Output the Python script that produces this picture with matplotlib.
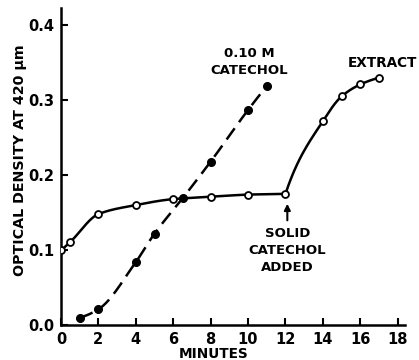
import numpy as np
import matplotlib
matplotlib.use("Agg")
import matplotlib.pyplot as plt

# Extract (open circles)
ext_x = [0, 0.5, 2, 4, 6, 8, 10, 12, 14, 15, 16, 17]
ext_y = [0.100, 0.111, 0.148, 0.160, 0.168, 0.171, 0.174, 0.175, 0.272, 0.305, 0.321, 0.330]
# 0.10 M catechol (filled circles)
cat_x = [1, 2, 4, 5, 6.5, 8, 10, 11]
cat_y = [0.010, 0.021, 0.084, 0.122, 0.169, 0.218, 0.287, 0.319]

xticks = [0, 2, 4, 6, 8, 10, 12, 14, 16, 18]
yticks = [0.0, 0.1, 0.2, 0.3, 0.4]
ytick_labels = ["0.0", "0.1", "0.2", "0.3", "0.4"]


def smooth(x, y, start_slope=None, end_slope=None, n=40):
    """Monotone (PCHIP-style) cubic Hermite drawing curve through the points."""
    x = np.asarray(x, float); y = np.asarray(y, float)
    h = np.diff(x); d = np.diff(y) / h
    m = np.zeros_like(x)
    for i in range(1, len(x) - 1):
        if d[i - 1] * d[i] > 0:
            w1 = 2 * h[i] + h[i - 1]
            w2 = h[i] + 2 * h[i - 1]
            m[i] = (w1 + w2) / (w1 / d[i - 1] + w2 / d[i])
    m[0] = d[0] if start_slope is None else start_slope
    m[-1] = d[-1] if end_slope is None else end_slope
    xs, ys = [], []
    for i in range(len(x) - 1):
        t = np.linspace(0, 1, n)
        h00 = 2 * t**3 - 3 * t**2 + 1
        h10 = t**3 - 2 * t**2 + t
        h01 = -2 * t**3 + 3 * t**2
        h11 = t**3 - t**2
        yy = h00 * y[i] + h10 * h[i] * m[i] + h01 * y[i + 1] + h11 * h[i] * m[i + 1]
        xx = x[i] + t * h[i]
        if i > 0:
            xx, yy = xx[1:], yy[1:]
        xs.append(xx); ys.append(yy)
    return np.concatenate(xs), np.concatenate(ys)


plt.rcParams['font.family'] = ['DejaVu Sans']
fig = plt.figure(figsize=(4.19, 3.60), dpi=100)
ax = fig.add_axes([0.1456, 0.0972, 0.8214, 0.8806])

lw = 1.8
k = ext_x.index(12)
sx1, sy1 = smooth(ext_x[:k + 1], ext_y[:k + 1], start_slope=0.018, end_slope=0.0008)
sx2, sy2 = smooth(ext_x[k:], ext_y[k:], start_slope=0.075, end_slope=0.007)
ax.plot(np.r_[sx1, sx2], np.r_[sy1, sy2], color='black', lw=lw, zorder=2)
ax.plot(ext_x, ext_y, 'o', ms=5, mfc='white', mec='black', mew=1.3, zorder=3)

cx, cy = smooth(cat_x, cat_y, start_slope=0.006)
ax.plot(cx, cy, color='black', lw=lw, dashes=(5.5, 3), zorder=2)
ax.plot(cat_x, cat_y, 'o', ms=5.5, mfc='black', mec='black', zorder=3)

ax.set_xlim(0, 18.4)
ax.set_ylim(0, 0.423)
ax.set_xticks(xticks)
ax.set_yticks(yticks)
ax.set_yticklabels(ytick_labels)
for s in ['top', 'right']:
    ax.spines[s].set_visible(False)
for s in ['left', 'bottom']:
    ax.spines[s].set_linewidth(1.8)
ax.tick_params(direction='in', length=5, width=1.5, labelsize=10.5, pad=5)
for lab in ax.get_xticklabels() + ax.get_yticklabels():
    lab.set_fontweight('bold')

fig.text(214 / 419, 1 - 354 / 360, "MINUTES", ha='center', va='center',
         fontsize=9.8, fontweight='bold')
fig.text(20 / 419, 1 - 160 / 360, "OPTICAL DENSITY AT 420 \u00b5m", ha='center', va='center',
         rotation=90, fontsize=10.3, fontweight='bold')

ax.text(10.05, 0.351, "0.10 M\nCATECHOL", ha='center', va='center', fontsize=9.5,
        fontweight='bold', linespacing=1.4)
ax.text(17.2, 0.349, "EXTRACT", ha='center', va='center', fontsize=9.8, fontweight='bold')
ax.text(12.1, 0.100, "SOLID\nCATECHOL\nADDED", ha='center', va='center', fontsize=9.5,
        fontweight='bold', linespacing=1.4)
ax.annotate("", xy=(12.1, 0.1655), xytext=(12.1, 0.136),
            arrowprops=dict(arrowstyle='-|>', color='black', lw=1.5, mutation_scale=9))

fig.savefig("out.png", dpi=100)
